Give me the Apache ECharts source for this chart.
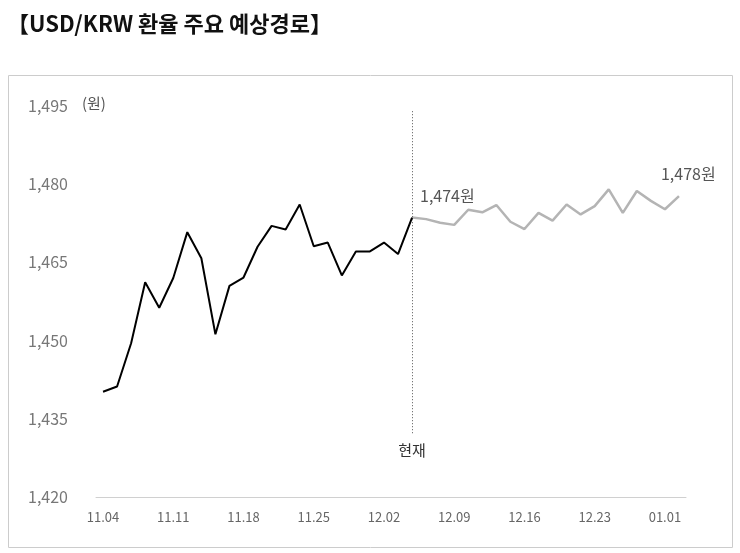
<!DOCTYPE html>
<html><head><meta charset="utf-8">
<script src="https://cdn.jsdelivr.net/npm/echarts@6/dist/echarts.min.js"></script>
<style>body{margin:0;background:#fff}#c{width:740px;height:553px}</style>
</head><body><div id="c"></div>
<script>
const categories = ['11.04','11.05','11.06','11.07','11.08','11.11','11.12','11.13','11.14','11.15','11.18','11.19','11.20','11.21','11.22','11.25','11.26','11.27','11.28','11.29','12.02','12.03','12.04','12.05','12.06','12.09','12.10','12.11','12.12','12.13','12.16','12.17','12.18','12.19','12.20','12.23','12.24','12.26','12.27','12.30','01.01','01.02'];
const shownTicks = [0,5,10,15,20,25,30,35,40];
const actual = [1440.2,1441.2,1449.5,1461.2,1456.3,1462.0,1470.8,1465.8,1451.2,1460.5,1462.1,1468.0,1472.0,1471.3,1476.1,1468.1,1468.8,1462.5,1467.1,1467.1,1468.8,1466.6,1473.6];
const forecast = [1473.6,1473.3,1472.6,1472.2,1475.1,1474.6,1476.0,1472.8,1471.4,1474.5,1473.0,1476.1,1474.2,1475.8,1479.0,1474.5,1478.7,1476.8,1475.2,1477.7];
const nowIndex = 22;
const yTicks = {min:1420, max:1495, interval:15};

const F = '"Noto Sans CJK KR","Noto Sans",sans-serif';
const actualData = categories.map((c,i)=> i < actual.length ? actual[i] : null);
const fcData = categories.map((c,i)=> i >= nowIndex ? forecast[i-nowIndex] : null);
fcData[nowIndex] = {value: forecast[0], label:{show:true, formatter:'1,474원', position:[8,-30], color:'#555', fontSize:16, fontFamily:F}};
fcData[categories.length-1] = {value: forecast[forecast.length-1], label:{show:true, formatter:'1,478원', position:[-18,-30], color:'#555', fontSize:16, fontFamily:F}};

const chart = echarts.init(document.getElementById('c'));
chart.setOption({
  animation:false,
  textStyle:{fontFamily:F},
  title:{text:'【USD/KRW 환율 주요 예상경로】', left:2, top:8, textStyle:{fontSize:22, fontWeight:'bold', color:'#111', fontFamily:F}},
  graphic:[
    {type:'rect', shape:{x:8.5,y:75.5,width:724,height:472}, style:{fill:'none', stroke:'#ccc', lineWidth:1}},
    {type:'text', left:82, top:96, style:{text:'(원)', fill:'#555', font:'15px '+F}}
  ],
  grid:{left:96, top:106, width:590, height:391},
  xAxis:{type:'category', data:categories, boundaryGap:true,
    axisLine:{lineStyle:{color:'#d0d0d0'}}, axisTick:{show:false},
    axisLabel:{interval:(i)=>shownTicks.includes(i), color:'#666', fontSize:13, margin:14, fontFamily:F}},
  yAxis:{type:'value', min:yTicks.min, max:yTicks.max, interval:yTicks.interval,
    splitLine:{show:false}, axisLine:{show:false}, axisTick:{show:false},
    axisLabel:{color:'#777', fontSize:16, align:'left', margin:68, fontFamily:F,
      formatter:v=>v.toLocaleString('en-US')}},
  series:[
    {type:'line', data:fcData, symbol:'circle', symbolSize:0.1, showSymbol:true, itemStyle:{color:'#b4b4b4'}, lineStyle:{color:'#b4b4b4', width:2.5}, z:2},
    {type:'line', data:actualData, symbol:'none', lineStyle:{color:'#000', width:2}, z:3,
      markLine:{symbol:'none', silent:true,
        lineStyle:{color:'#555', type:[1,2], width:1},
        label:{show:true, position:'end', formatter:'현재', color:'#333', fontSize:15, fontFamily:F, distance:8},
        data:[[{coord:[nowIndex,1494]},{coord:[nowIndex,1432]}]]}}
  ]
});
</script></body></html>
